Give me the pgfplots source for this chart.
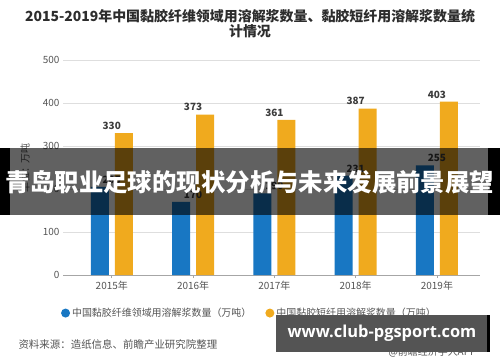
\documentclass[border=0pt]{standalone}
\usepackage{pgfplots}
\pgfplotsset{compat=1.18}
\usepackage{fontspec}
\setmainfont{Noto Sans CJK SC}
\newfontfamily\wm{Open Sans}
\definecolor{bluec}{RGB}{24,119,195}
\definecolor{orangec}{RGB}{240,170,30}
\definecolor{txt}{RGB}{85,85,85}
\definecolor{lbl}{RGB}{60,60,60}
\definecolor{ttl}{RGB}{45,45,45}
\begin{document}
\begin{tikzpicture}[x=1bp,y=1bp]
\useasboundingbox (0,0) rectangle (500,362);
\fill[white] (0,0) rectangle (500,362);
\node[font=\fontsize{14}{15}\selectfont\bfseries, text=ttl] at (250,346) {2015-2019年中国黏胶纤维领域用溶解浆数量、黏胶短纤用溶解浆数量统};
\node[font=\fontsize{14}{15}\selectfont\bfseries, text=ttl] at (250,331) {计情况};
\begin{axis}[at={(63bp,87bp)}, anchor=south west, scale only axis,
  width=417bp, height=215bp,
  xmin=-0.6, xmax=4.53, ymin=0, ymax=500,
  ytick={0,100,200,300,400,500},
  xtick={0,1,2,3,4},
  xticklabels={2015年,2016年,2017年,2018年,2019年},
  ymajorgrids, grid style={draw=black!13, line width=0.7bp},
  axis x line*=bottom, axis y line*=left,
  y axis line style={draw=none},
  x axis line style={draw=black!35, line width=0.8bp, -},
  ytick style={draw=none},
  xtick style={draw=black!35, line width=0.8bp},
  xtick align=outside, major tick length=3bp,
  tick label style={font=\fontsize{10}{12}\selectfont, text=txt},
  /pgf/number format/assume math mode=true,
  nodes near coords,
  nodes near coords style={font=\fontsize{10}{12}\selectfont\bfseries, text=lbl},
  legend style={at={(0.447,-0.177)}, anchor=center, draw=none, fill=none,
    legend columns=2, font=\fontsize{10}{12}\selectfont, text=txt,
    /tikz/every even column/.append style={column sep=12bp}},
]
\addplot[ybar, bar width=18bp, bar shift=-12bp, fill=bluec, draw=none,
  legend image code/.code={\fill[bluec] (0.2cm,0bp) circle (4.5bp);}]
  coordinates {(0,205) (1,170) (2,190) (3,231) (4,255)};
\addlegendentry{中国黏胶纤维领域用溶解浆数量（万吨）}
\addplot[ybar, bar width=18bp, bar shift=12bp, fill=orangec, draw=none,
  legend image code/.code={\fill[orangec] (0.2cm,0bp) circle (4.5bp);}]
  coordinates {(0,330) (1,373) (2,361) (3,387) (4,403)};
\addlegendentry{中国黏胶短纤用溶解浆数量（万吨）}
\end{axis}
\node[rotate=90, text=txt, font=\fontsize{10}{12}\selectfont] at (25,194) {单位：万吨};
% banner overlay
\fill[black, opacity=0.62] (10,147) rectangle (488,214);
\fill[black] (0,147) rectangle (10,214);
\fill[black] (488,147) rectangle (500,214);
\node[white, font=\fontsize{24.5}{28}\selectfont\bfseries] at (250,180) {青岛职业足球的现状分析与未来发展前景展望};
% source
\node[anchor=west, text=txt, font=\fontsize{10.5}{12}\selectfont] at (15,17) {资料来源：造纸信息、前瞻产业研究院整理};
\node[anchor=west, text=txt, font=\fontsize{10}{12}\selectfont] at (385,10) {@前瞻经济学人APP};
% watermark box
\fill[black!67] (276,10) rectangle (490,47);
\fill[black] (487,10) rectangle (490,47);
\node[white, font=\wm\fontsize{16.5}{18}\selectfont\bfseries] at (382,28.5) {www.club-pgsport.com};
\end{tikzpicture}
\end{document}
